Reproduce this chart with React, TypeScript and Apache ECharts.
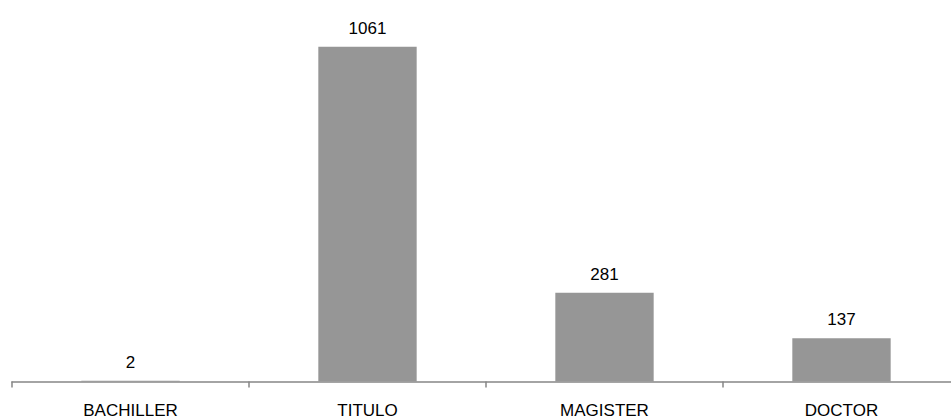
import React, { useEffect, useRef } from "react";
import * as echarts from "echarts";

const categories = ["BACHILLER", "TITULO", "MAGISTER", "DOCTOR"];
const values = [2, 1061, 281, 137];

export default function App() {
  const ref = useRef<HTMLDivElement>(null);
  useEffect(() => {
    const chart = echarts.init(ref.current!, null, { renderer: "svg" });
    chart.setOption({
      animation: false,
      backgroundColor: "#ffffff",
      grid: { left: 12, right: 0, top: 3, bottom: 36.5, containLabel: false },
      xAxis: {
        type: "category",
        data: categories,
        axisLine: { lineStyle: { color: "#868686", width: 1.5 } },
        axisTick: { show: true, length: 6, lineStyle: { color: "#868686", width: 1.5 } },
        axisLabel: {
          color: "#000000",
          fontSize: 17,
          lineHeight: 17,
          fontFamily: "Liberation Sans, Arial, sans-serif",
          margin: 20.5,
        },
      },
      yAxis: {
        type: "value",
        min: 0,
        max: 1200,
        show: false,
        splitLine: { show: false },
      },
      series: [
        {
          type: "bar",
          data: values,
          barWidth: "41.5%",
          itemStyle: { color: "#969696" },
          label: {
            show: true,
            position: "top",
            distance: 10,
            color: "#000000",
            fontSize: 17,
            fontFamily: "Liberation Sans, Arial, sans-serif",
          },
        },
      ],
    });
    return () => chart.dispose();
  }, []);
  return (
    <div style={{ position: "fixed", left: 0, top: 0, width: 951, height: 419, overflow: "hidden" }}>
      <div ref={ref} style={{ width: 960, height: 419 }} />
    </div>
  );
}
